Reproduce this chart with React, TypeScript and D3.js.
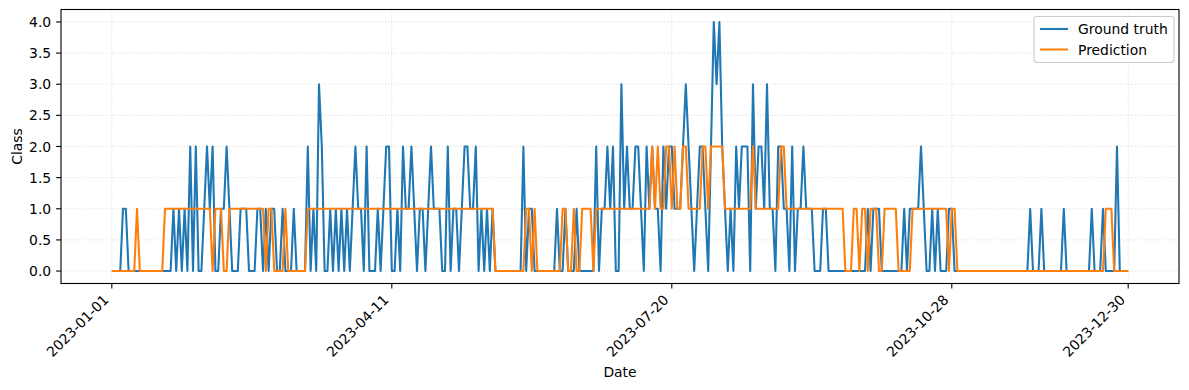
import React from 'react';
import * as d3 from 'd3';

// daily series, 2023-01-01 .. 2023-12-30 (364 days)
const startDate = '2023-01-01';

const groundTruth = [
  0, 0, 0, 0, 1, 1, 0, 0, 0, 0, // 0
  0, 0, 0, 0, 0, 0, 0, 0, 0, 0,
  0, 0, 1, 0, 1, 0, 1, 0, 2, 0, // 20
  2, 0, 0, 1, 2, 1, 2, 0, 0, 1,
  1, 2, 1, 0, 0, 0, 1, 1, 1, 0, // 40
  0, 0, 1, 1, 0, 1, 0, 1, 1, 0,
  0, 1, 0, 0, 0, 1, 0, 0, 0, 0, // 60
  2, 0, 1, 0, 3, 2, 0, 0, 1, 0,
  1, 0, 1, 0, 1, 0, 1, 2, 1, 1, // 80
  0, 2, 0, 0, 0, 1, 0, 1, 2, 2,
  0, 0, 1, 0, 2, 1, 1, 2, 1, 0, // 100
  1, 1, 0, 1, 2, 1, 1, 1, 0, 0,
  2, 0, 1, 1, 0, 1, 2, 2, 1, 1, // 120
  2, 0, 1, 0, 1, 0, 1, 0, 0, 0,
  0, 0, 0, 0, 0, 0, 0, 2, 0, 1, // 140
  1, 0, 0, 0, 0, 0, 0, 0, 0, 1,
  0, 0, 1, 0, 0, 0, 1, 0, 0, 0, // 160
  0, 0, 0, 2, 0, 1, 1, 2, 1, 2,
  0, 0, 3, 1, 2, 1, 1, 2, 2, 1, // 180
  0, 2, 1, 2, 1, 1, 0, 2, 1, 2,
  2, 1, 1, 1, 2, 3, 2, 1, 0, 1, // 200
  2, 2, 1, 0, 2, 4, 3, 4, 2, 1,
  0, 1, 0, 2, 1, 2, 2, 2, 0, 3, // 220
  1, 2, 2, 1, 3, 1, 1, 0, 2, 2,
  1, 1, 0, 2, 0, 1, 1, 2, 1, 1, // 240
  1, 0, 0, 0, 1, 1, 0, 0, 0, 0,
  0, 0, 0, 0, 0, 0, 0, 0, 0, 0, // 260
  1, 0, 1, 1, 1, 0, 0, 0, 0, 0,
  0, 0, 0, 1, 0, 1, 1, 1, 1, 2, // 280
  1, 0, 0, 1, 0, 1, 0, 0, 0, 1,
  1, 0, 0, 0, 0, 0, 0, 0, 0, 0, // 300
  0, 0, 0, 0, 0, 0, 0, 0, 0, 0,
  0, 0, 0, 0, 0, 0, 0, 0, 1, 0, // 320
  0, 0, 1, 0, 0, 0, 0, 0, 0, 0,
  1, 0, 0, 0, 0, 0, 0, 0, 0, 0, // 340
  1, 0, 0, 0, 1, 0, 0, 0, 0, 2,
  0, 0, 0, 0, // 360
];

const prediction = [
  0, 0, 0, 0, 0, 0, 0, 0, 0, 1, // 0
  0, 0, 0, 0, 0, 0, 0, 0, 0, 1,
  1, 1, 1, 1, 1, 1, 1, 1, 1, 1, // 20
  1, 1, 1, 1, 1, 1, 0, 1, 1, 1,
  0, 0, 1, 1, 1, 1, 1, 1, 1, 1, // 40
  1, 1, 1, 1, 1, 0, 1, 1, 0, 0,
  0, 0, 1, 0, 0, 0, 0, 0, 0, 0, // 60
  1, 1, 1, 1, 1, 1, 1, 1, 1, 1,
  1, 1, 1, 1, 1, 1, 1, 1, 1, 1, // 80
  1, 1, 1, 1, 1, 1, 1, 1, 1, 1,
  1, 1, 1, 1, 1, 1, 1, 1, 1, 1, // 100
  1, 1, 1, 1, 1, 1, 1, 1, 1, 1,
  1, 1, 1, 1, 1, 1, 1, 1, 1, 1, // 120
  1, 1, 1, 1, 1, 1, 1, 0, 0, 0,
  0, 0, 0, 0, 0, 0, 0, 0, 1, 1, // 140
  0, 1, 0, 0, 0, 0, 0, 0, 0, 0,
  0, 1, 1, 0, 0, 1, 0, 0, 1, 1, // 160
  1, 1, 0, 1, 1, 1, 1, 1, 1, 1,
  1, 1, 1, 1, 1, 1, 1, 1, 1, 1, // 180
  1, 1, 1, 2, 1, 2, 1, 1, 2, 2,
  1, 2, 1, 1, 2, 2, 1, 1, 1, 1, // 200
  1, 2, 2, 1, 2, 2, 2, 2, 2, 1,
  1, 1, 1, 1, 1, 1, 1, 1, 1, 2, // 220
  1, 1, 1, 1, 1, 1, 1, 1, 1, 2,
  2, 1, 1, 1, 1, 1, 1, 1, 1, 1, // 240
  1, 1, 1, 1, 1, 1, 1, 1, 1, 1,
  1, 1, 0, 0, 0, 1, 1, 0, 1, 1, // 260
  0, 1, 1, 1, 0, 0, 1, 1, 1, 1,
  1, 0, 0, 0, 0, 0, 1, 1, 1, 1, // 280
  1, 1, 1, 1, 1, 1, 1, 1, 1, 0,
  1, 1, 0, 0, 0, 0, 0, 0, 0, 0, // 300
  0, 0, 0, 0, 0, 0, 0, 0, 0, 0,
  0, 0, 0, 0, 0, 0, 0, 0, 0, 0, // 320
  0, 0, 0, 0, 0, 0, 0, 0, 0, 0,
  0, 0, 0, 0, 0, 0, 0, 0, 0, 0, // 340
  0, 0, 0, 0, 0, 1, 1, 1, 0, 0,
  0, 0, 0, 0, // 360
];

const xTickLabels = ['2023-01-01', '2023-04-11', '2023-07-20', '2023-10-28', '2023-12-30'];
const yTicks = [0, 0.5, 1, 1.5, 2, 2.5, 3, 3.5, 4];

const seriesNames = ['Ground truth', 'Prediction'];
const colors = ['#1f77b4', '#ff7f0e'];

const W = 1189;
const H = 390;
const left = 61, right = 1179, top = 9.5, bottom = 283.5;
const FONT = 'DejaVu Sans, sans-serif';
const FS = 13.9; // 10pt at 100 dpi
const TL = 4.9;  // tick length

export default function App() {
  const parse = d3.utcParse('%Y-%m-%d');
  const d0 = parse(startDate) as Date;
  const dates = groundTruth.map((_, i) => d3.utcDay.offset(d0, i));
  const dLast = dates[dates.length - 1];

  // matplotlib-style 5% margins
  const span = dLast.getTime() - d0.getTime();
  const x = d3.scaleUtc()
    .domain([new Date(d0.getTime() - span * 0.05), new Date(dLast.getTime() + span * 0.05)])
    .range([left, right]);
  const y = d3.scaleLinear().domain([-0.2, 4.2]).range([bottom, top]);

  const line = d3.line<number>()
    .x((d, i) => x(dates[i]))
    .y(d => y(d));

  const series = [groundTruth, prediction];

  return (
    <svg width={W} height={H} style={{ position: 'absolute', left: 0, top: 0 }} fontFamily={FONT}>
      <rect width={W} height={H} fill="white" />

      {/* grid */}
      <g stroke="#b0b0b0" strokeOpacity={0.6} strokeWidth={0.8} strokeDasharray="1,2">
        {yTicks.map(t => (
          <line key={'gy' + t} x1={left} x2={right} y1={y(t)} y2={y(t)} />
        ))}
        {xTickLabels.map(t => (
          <line key={'gx' + t} x1={x(parse(t) as Date)} x2={x(parse(t) as Date)} y1={top} y2={bottom} />
        ))}
      </g>

      {/* lines */}
      <g fill="none" strokeWidth={2.08} strokeLinejoin="round">
        {series.map((s, k) => (
          <path key={k} d={line(s) || ''} stroke={colors[k]} />
        ))}
      </g>

      {/* frame */}
      <rect x={left} y={top} width={right - left} height={bottom - top} fill="none" stroke="black" strokeWidth={1.1} />

      {/* y axis */}
      <g fontSize={FS} textAnchor="end">
        {yTicks.map(t => (
          <g key={'yt' + t}>
            <line x1={left - TL} x2={left} y1={y(t)} y2={y(t)} stroke="black" strokeWidth={1.1} />
            <text x={left - TL - 4.9} y={y(t)} dy="0.36em">{t.toFixed(1)}</text>
          </g>
        ))}
      </g>

      {/* x axis */}
      <g fontSize={FS} textAnchor="end">
        {xTickLabels.map(t => {
          const px = x(parse(t) as Date);
          return (
            <g key={'xt' + t}>
              <line x1={px} x2={px} y1={bottom} y2={bottom + TL} stroke="black" strokeWidth={1.1} />
              <text transform={`translate(${px - 2.3},${bottom + 17.2}) rotate(-45)`}>{t}</text>
            </g>
          );
        })}
      </g>

      <text x={(left + right) / 2} y={377} fontSize={FS} textAnchor="middle">Date</text>
      <text transform={`translate(22,${(top + bottom) / 2}) rotate(-90)`} fontSize={FS} textAnchor="middle">Class</text>

      {/* legend */}
      <g>
        <rect x={1034} y={16.5} width={140} height={46} rx={3} fill="white" fillOpacity={0.8} stroke="#cccccc" strokeWidth={1.1} />
        {seriesNames.map((n, k) => (
          <g key={n}>
            <line x1={1040} x2={1068} y1={29 + k * 20.5} y2={29 + k * 20.5} stroke={colors[k]} strokeWidth={2.08} />
            <text x={1078} y={29 + k * 20.5} dy="0.36em" fontSize={FS}>{n}</text>
          </g>
        ))}
      </g>
    </svg>
  );
}
